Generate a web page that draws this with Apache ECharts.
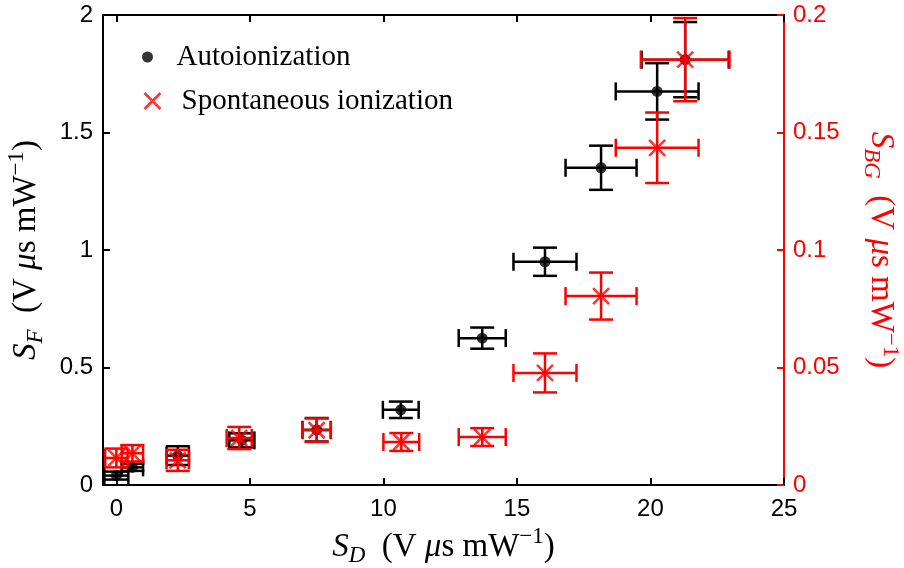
<!DOCTYPE html>
<html>
<head>
<meta charset="utf-8">
<script src="https://cdn.jsdelivr.net/npm/echarts@6/dist/echarts.min.js"></script>
<style>
  html, body { margin: 0; padding: 0; background: #fff; }
  #chart { width: 904px; height: 568px; }
</style>
</head>
<body>
<div id="chart"></div>
<script>
// Autoionization (left axis, S_F)
const autoX = [0.0, 0.6, 2.3, 4.7, 7.5, 10.65, 13.7, 16.05, 18.15, 20.25, 21.3];
const autoY = [0.04, 0.075, 0.125, 0.19, 0.235, 0.32, 0.625, 0.95, 1.35, 1.675, 1.81];
const autoXErr = [0.45, 0.4, 0.42, 0.47, 0.53, 0.67, 0.88, 1.18, 1.33, 1.55, 1.63];
const autoYErr = [0.017, 0.015, 0.04, 0.03, 0.05, 0.035, 0.045, 0.06, 0.094, 0.12, 0.16];

// Spontaneous ionization (right axis, S_BG)
const spontX = [0.0, 0.6, 2.3, 4.6, 7.5, 10.67, 13.7, 16.05, 18.15, 20.25, 21.3];
const spontY = [0.0115, 0.0135, 0.0105, 0.02, 0.0233, 0.0183, 0.0204, 0.0477, 0.0804, 0.1435, 0.181];
const spontXErr = [0.42, 0.4, 0.42, 0.47, 0.53, 0.67, 0.88, 1.18, 1.33, 1.55, 1.66];
const spontYErr = [0.004, 0.0035, 0.0045, 0.0047, 0.005, 0.0038, 0.0038, 0.0083, 0.01, 0.015, 0.0177];

const xTicks = [0, 5, 10, 15, 20, 25];

const RED = '#ff0000';
const SANS = 'Liberation Sans, Arial, sans-serif';
const SERIF = 'Liberation Serif, Times New Roman, serif';

function rows(xs, ys, exs, eys) {
  return xs.map((x, i) => [x, ys[i], exs[i], eys[i]]);
}

// error bars: horizontal and vertical with caps
function errorBars(color) {
  return function (params, api) {
    const x = api.value(0), y = api.value(1);
    const ex = api.value(2), ey = api.value(3);
    const l = api.coord([x - ex, y]);
    const r = api.coord([x + ex, y]);
    const t = api.coord([x, y + ey]);
    const b = api.coord([x, y - ey]);
    const capY = 12, capX = 9;
    const style = { stroke: color, lineWidth: 2.5 };
    const seg = (x1, y1, x2, y2) => ({ type: 'line', shape: { x1, y1, x2, y2 }, style });
    return {
      type: 'group',
      children: [
        seg(l[0], l[1], r[0], r[1]),
        seg(l[0], l[1] - capX, l[0], l[1] + capX),
        seg(r[0], r[1] - capX, r[0], r[1] + capX),
        seg(t[0], t[1], b[0], b[1]),
        seg(t[0] - capY, t[1], t[0] + capY, t[1]),
        seg(b[0] - capY, b[1], b[0] + capY, b[1])
      ]
    };
  };
}

const titleRich = (color) => ({
  t: { fontFamily: SERIF, fontSize: 33, color, lineHeight: 42 },
  i: { fontFamily: SERIF, fontSize: 33, fontStyle: 'italic', color, lineHeight: 42 },
  sub: { fontFamily: SERIF, fontSize: 23, fontStyle: 'italic', color, lineHeight: 24, verticalAlign: 'bottom' },
  sup: { fontFamily: SERIF, fontSize: 23, color, lineHeight: 24, verticalAlign: 'top' }
});

const unit = '{t|  (V }{i|μ}{t|s mW}{sup|−1}{t|)}';
const crossPath = 'path://M0,0L10,10M10,0L0,10';

const option = {
  animation: false,
  backgroundColor: '#ffffff',
  grid: { left: 103, right: 120, top: 15, bottom: 83, containLabel: false, outerBoundsMode: 'none' },
  legend: [
    {
      data: [{ name: 'Autoionization', icon: 'circle' }],
      left: 142, top: 42, padding: 0,
      itemWidth: 48, itemHeight: 11,
      textStyle: { fontFamily: SERIF, fontSize: 29, color: '#000', lineHeight: 30 }
    },
    {
      data: [{ name: 'Spontaneous ionization', icon: crossPath,
        itemStyle: { color: 'none', borderColor: RED, borderWidth: 2.5 } }],
      left: 142, top: 86, padding: 0,
      itemWidth: 48, itemHeight: 16,
      textStyle: { fontFamily: SERIF, fontSize: 29, color: '#000', lineHeight: 30 }
    }
  ],
  xAxis: [
    {
      type: 'value', min: -0.5, max: 25, position: 'bottom',
      name: '{i|S}{sub|D}' + unit,
      nameLocation: 'middle', nameGap: 40,
      nameTextStyle: { rich: titleRich('#000') },
      axisLine: { onZero: false, lineStyle: { color: '#000', width: 2 } },
      axisTick: { inside: true, length: 7, customValues: xTicks, lineStyle: { color: '#000', width: 2 } },
      axisLabel: { customValues: xTicks, margin: 12, fontFamily: SANS, fontSize: 24, color: '#000' },
      splitLine: { show: false }
    },
    {
      type: 'value', min: -0.5, max: 25, position: 'top',
      axisLine: { onZero: false, lineStyle: { color: '#000', width: 2 } },
      axisTick: { inside: true, length: 7, customValues: xTicks, lineStyle: { color: '#000', width: 2 } },
      axisLabel: { show: false },
      splitLine: { show: false }
    }
  ],
  yAxis: [
    {
      type: 'value', min: 0, max: 2, interval: 0.5, position: 'left',
      name: '{i|S}{sub|F}' + unit,
      nameLocation: 'middle', nameGap: 56,
      nameTextStyle: { rich: titleRich('#000') },
      axisLine: { show: true, onZero: false, lineStyle: { color: '#000', width: 2 } },
      axisTick: { show: true, inside: true, length: 7, lineStyle: { color: '#000', width: 2 } },
      axisLabel: { margin: 10, fontFamily: SANS, fontSize: 24, color: '#000' },
      splitLine: { show: false }
    },
    {
      type: 'value', min: 0, max: 0.2, interval: 0.05, position: 'right',
      name: '{i|S}{sub|BG}' + unit,
      nameLocation: 'middle', nameGap: 76, nameRotate: -90,
      nameTextStyle: { rich: titleRich(RED) },
      axisLine: { show: true, onZero: false, lineStyle: { color: RED, width: 2 } },
      axisTick: { show: true, inside: true, length: 7, lineStyle: { color: RED, width: 2 } },
      axisLabel: { margin: 9, fontFamily: SANS, fontSize: 24, color: RED },
      splitLine: { show: false }
    }
  ],
  series: [
    {
      name: 'auto-err', type: 'custom', xAxisIndex: 0, yAxisIndex: 0,
      renderItem: errorBars('#000'),
      data: rows(autoX, autoY, autoXErr, autoYErr),
      z: 2
    },
    {
      name: 'Autoionization', type: 'scatter', xAxisIndex: 0, yAxisIndex: 0,
      symbol: 'circle', symbolSize: 11,
      itemStyle: { color: '#000' },
      data: autoX.map((x, i) => [x, autoY[i]]),
      z: 3
    },
    {
      name: 'spont-err', type: 'custom', xAxisIndex: 0, yAxisIndex: 1,
      renderItem: errorBars(RED),
      data: rows(spontX, spontY, spontXErr, spontYErr),
      z: 4
    },
    {
      name: 'Spontaneous ionization', type: 'scatter', xAxisIndex: 0, yAxisIndex: 1,
      symbol: crossPath, symbolSize: 16,
      itemStyle: { color: 'none', borderColor: RED, borderWidth: 2.5 },
      data: spontX.map((x, i) => [x, spontY[i]]),
      z: 5
    }
  ]
};

const chart = echarts.init(document.getElementById('chart'));
chart.setOption(option);
</script>
</body>
</html>
